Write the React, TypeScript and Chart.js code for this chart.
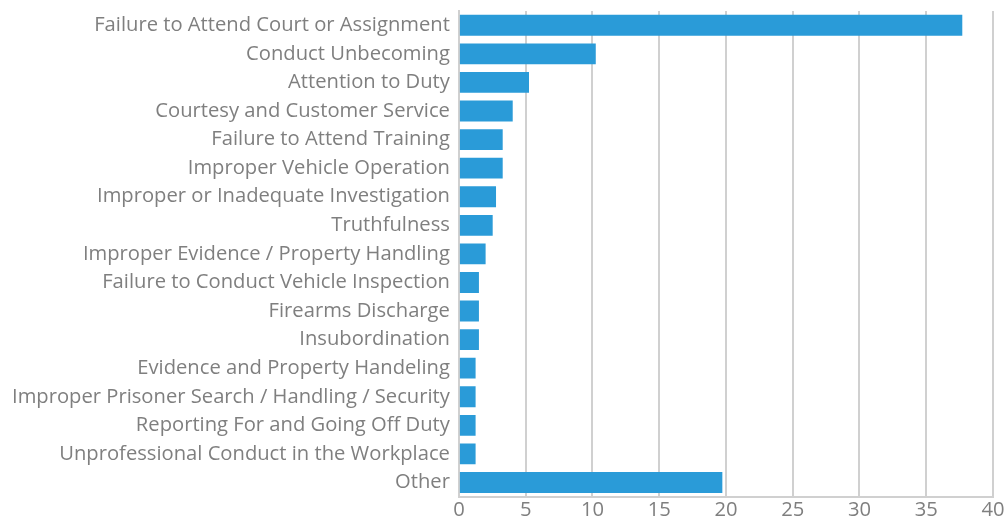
import React, { useEffect, useRef } from "react";
import { Chart, registerables } from "chart.js";

Chart.register(...registerables);

const categories = [
  "Failure to Attend Court or Assignment",
  "Conduct Unbecoming",
  "Attention to Duty",
  "Courtesy and Customer Service",
  "Failure to Attend Training",
  "Improper Vehicle Operation",
  "Improper or Inadequate Investigation",
  "Truthfulness",
  "Improper Evidence / Property Handling",
  "Failure to Conduct Vehicle Inspection",
  "Firearms Discharge",
  "Insubordination",
  "Evidence and Property Handeling",
  "Improper Prisoner Search / Handling / Security",
  "Reporting For and Going Off Duty",
  "Unprofessional Conduct in the Workplace",
  "Other",
];

const values = [37.7, 10.25, 5.25, 4.03, 3.28, 3.28, 2.78, 2.53, 2.0, 1.5, 1.5, 1.5, 1.25, 1.25, 1.25, 1.25, 19.73];

const xMin = 0;
const xMax = 40;
const xStep = 5;

export default function App() {
  const ref = useRef<HTMLCanvasElement>(null);
  useEffect(() => {
    if (!ref.current) return;
    const font = { family: "'Open Sans', sans-serif", size: 20.2 };
    const chart = new Chart(ref.current, {
      type: "bar",
      data: {
        labels: categories,
        datasets: [
          {
            data: values,
            backgroundColor: "#2a9bd8",
            borderWidth: 0,
            barPercentage: 0.73,
            categoryPercentage: 1,
          },
        ],
      },
      options: {
        indexAxis: "y",
        animation: false,
        responsive: true,
        maintainAspectRatio: false,
        layout: { padding: { top: 11, right: 13, left: 3, bottom: 0 } },
        plugins: { legend: { display: false }, tooltip: { enabled: false } },
        scales: {
          x: {
            min: xMin,
            max: xMax,
            ticks: { stepSize: xStep, color: "#7f7f7f", font, padding: 1 },
            grid: { color: "#d0d0d0", lineWidth: 2, drawTicks: false },
            border: { color: "#d0d0d0", width: 2 },
            afterFit: (s: any) => {
              s.paddingRight = 0;
              s.paddingLeft = 0;
            },
          },
          y: {
            ticks: { color: "#7f7f7f", font, padding: 9, autoSkip: false },
            grid: { display: false, drawTicks: false },
            border: { color: "#d0d0d0", width: 2 },
            afterFit: (s: any) => {
              s.paddingTop = 0;
              s.paddingBottom = 0;
            },
          },
        },
      },
    });
    return () => chart.destroy();
  }, []);
  return (
    <div style={{ position: "fixed", left: 0, top: 0, width: 1006, height: 523 }}>
      <canvas ref={ref} />
    </div>
  );
}
